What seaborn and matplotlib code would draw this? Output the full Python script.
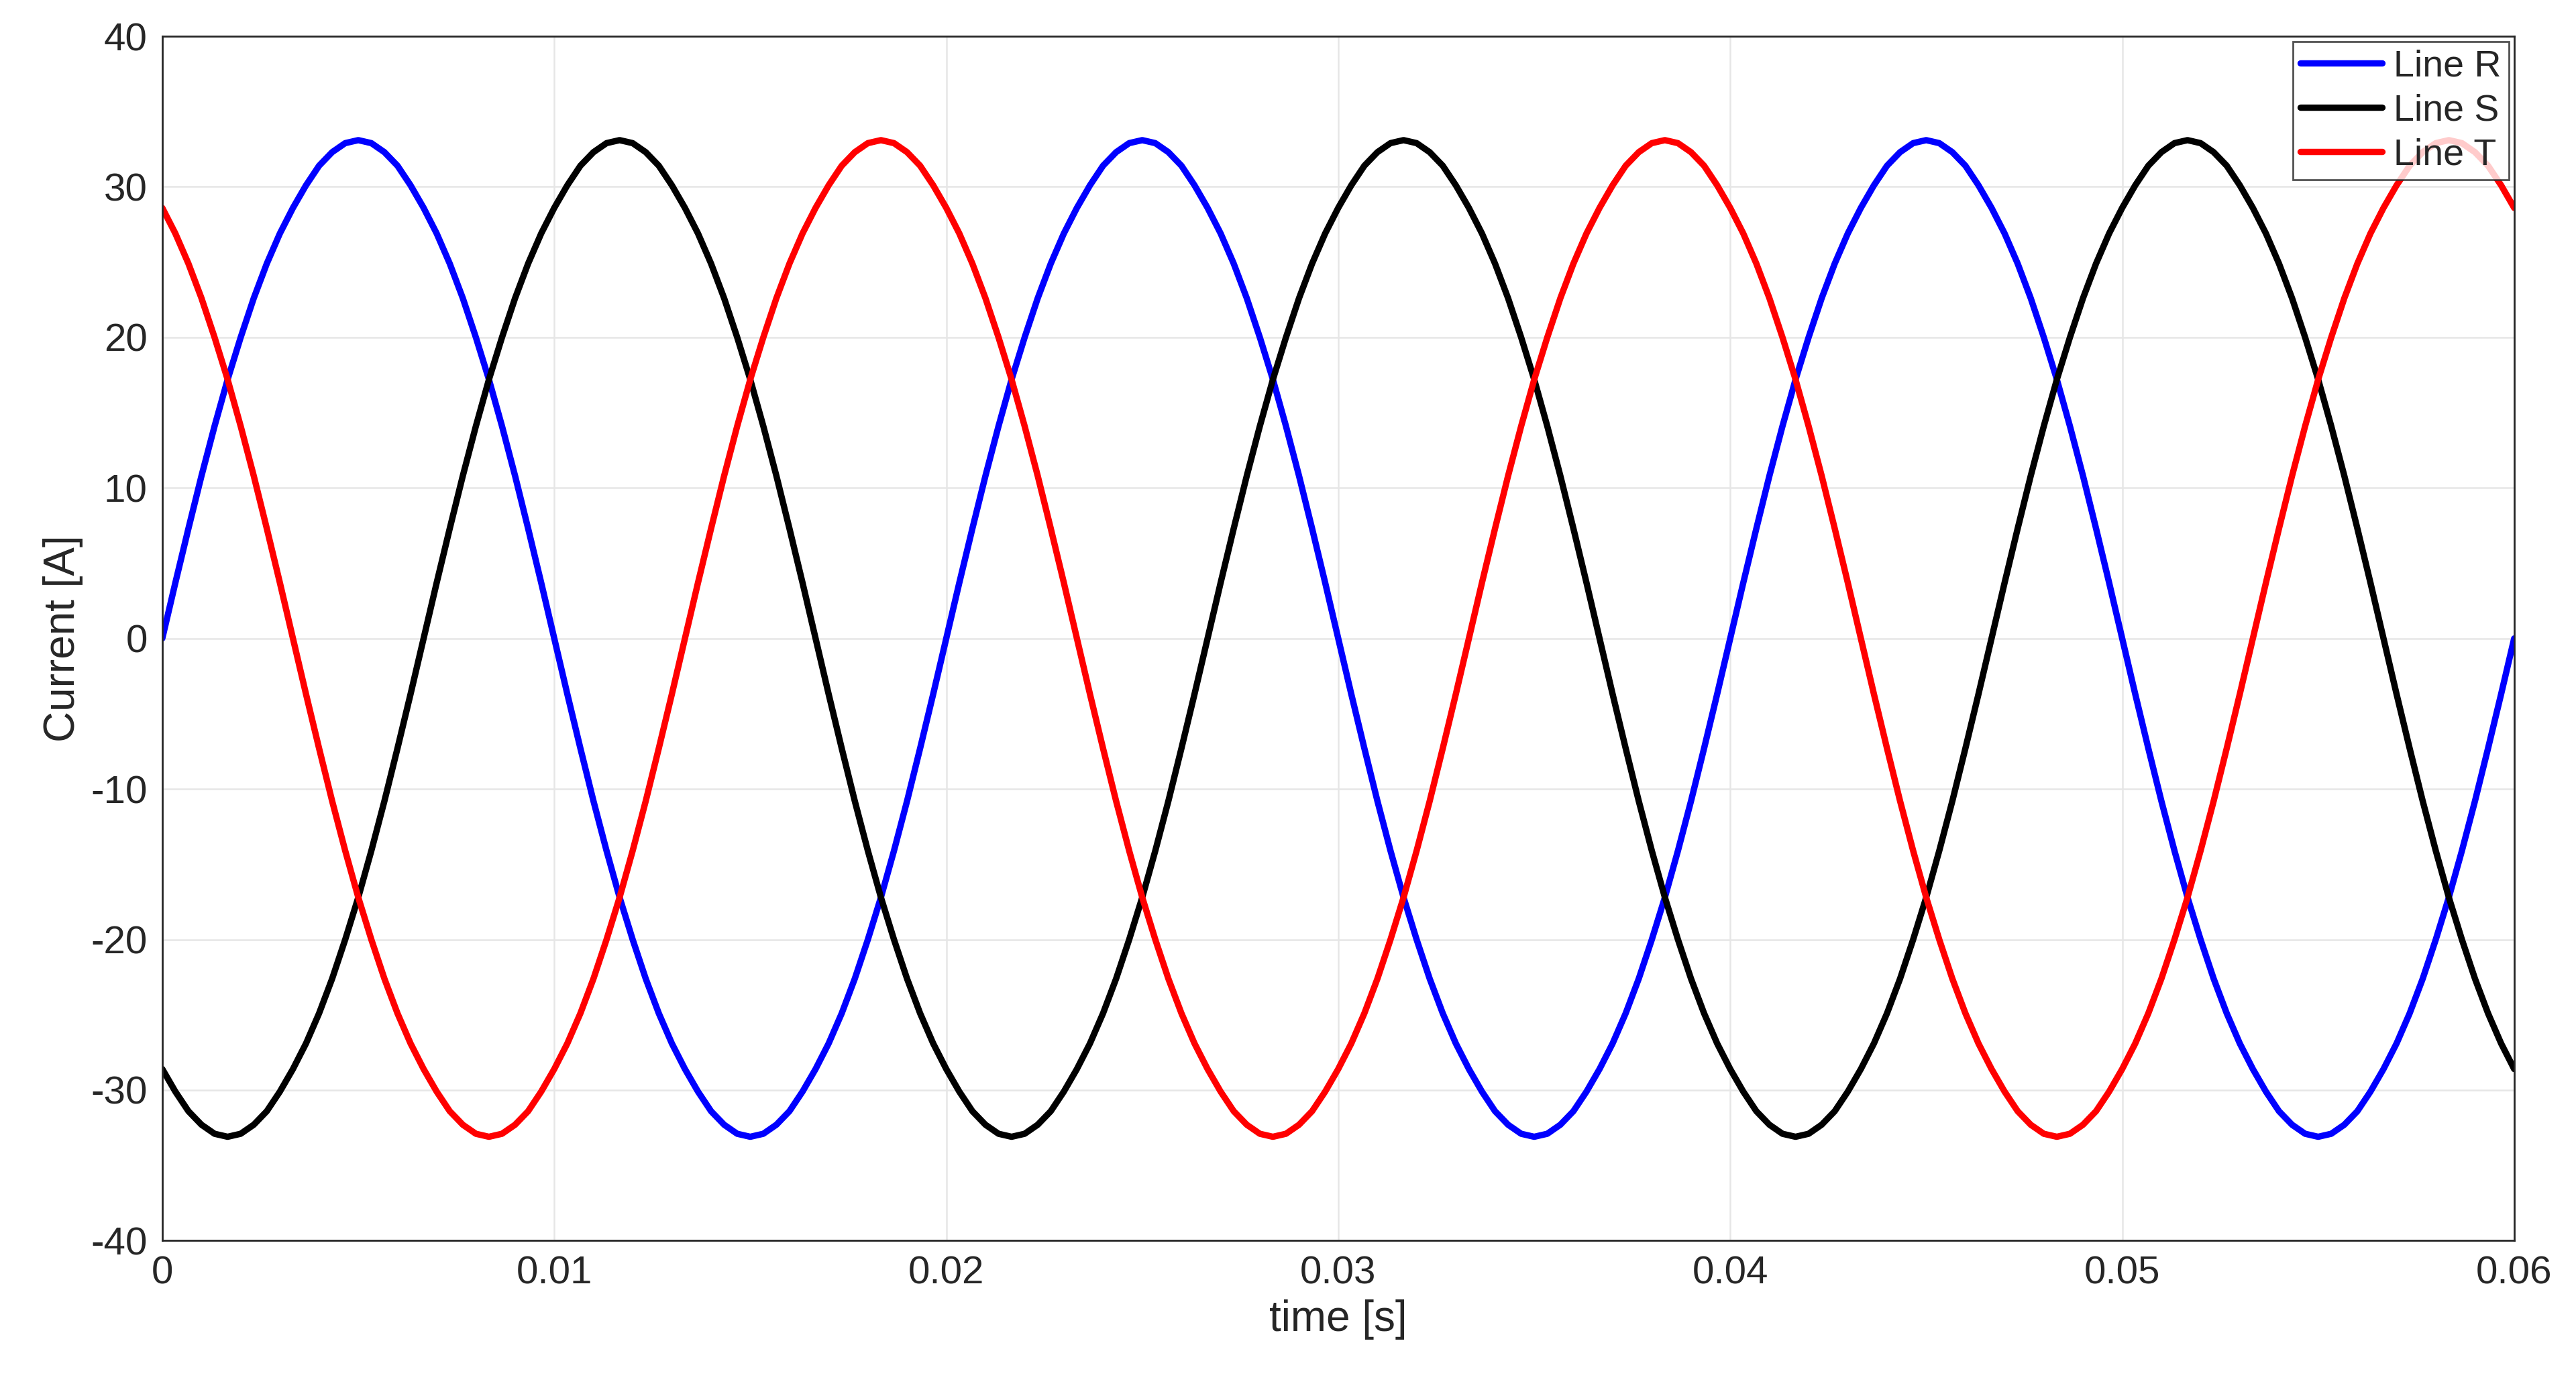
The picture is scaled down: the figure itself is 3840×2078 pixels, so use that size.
import numpy as np
import pandas as pd
import matplotlib
matplotlib.use("Agg")
import matplotlib.pyplot as plt
import seaborn as sns

r_period = [0, 3.7, 7.3, 10.8, 14.1, 17.2, 20.0, 22.6, 24.9, 26.9, 28.6, 30.1, 31.4, 32.3, 32.9,
            33.1, 32.9, 32.3, 31.4, 30.1, 28.6, 26.9, 24.9, 22.6, 20.0, 17.2, 14.1, 10.8, 7.3, 3.7,
            0, -3.7, -7.3, -10.8, -14.1, -17.2, -20.0, -22.6, -24.9, -26.9, -28.6, -30.1, -31.4, -32.3, -32.9,
            -33.1, -32.9, -32.3, -31.4, -30.1, -28.6, -26.9, -24.9, -22.6, -20.0, -17.2, -14.1, -10.8, -7.3, -3.7]
s_period = [-28.6, -30.1, -31.4, -32.3, -32.9, -33.1, -32.9, -32.3, -31.4, -30.1,
            -28.6, -26.9, -24.9, -22.6, -20.0, -17.2, -14.1, -10.8, -7.3, -3.7,
            0, 3.7, 7.3, 10.8, 14.1, 17.2, 20.0, 22.6, 24.9, 26.9, 28.6, 30.1, 31.4, 32.3, 32.9,
            33.1, 32.9, 32.3, 31.4, 30.1, 28.6, 26.9, 24.9, 22.6, 20.0, 17.2, 14.1, 10.8, 7.3, 3.7,
            0, -3.7, -7.3, -10.8, -14.1, -17.2, -20.0, -22.6, -24.9, -26.9]
t_period = [28.6, 26.9, 24.9, 22.6, 20.0, 17.2, 14.1, 10.8, 7.3, 3.7,
            0, -3.7, -7.3, -10.8, -14.1, -17.2, -20.0, -22.6, -24.9, -26.9, -28.6, -30.1, -31.4, -32.3, -32.9,
            -33.1, -32.9, -32.3, -31.4, -30.1, -28.6, -26.9, -24.9, -22.6, -20.0, -17.2, -14.1, -10.8, -7.3, -3.7,
            0, 3.7, 7.3, 10.8, 14.1, 17.2, 20.0, 22.6, 24.9, 26.9, 28.6, 30.1, 31.4, 32.3, 32.9,
            33.1, 32.9, 32.3, 31.4, 30.1]
n_periods = 3
line_names = ["Line R", "Line S", "Line T"]
line_colors = ["#0000ff", "#000000", "#ff0000"]
x_ticks = [0, 0.01, 0.02, 0.03, 0.04, 0.05, 0.06]
y_ticks = [-40, -30, -20, -10, 0, 10, 20, 30, 40]

n = len(r_period)
time = np.arange(n * n_periods + 1) * (0.02 / n)
frames = []
for name, per in zip(line_names, [r_period, s_period, t_period]):
    vals = per * n_periods + [per[0]]
    frames.append(pd.DataFrame({"time": time, "current": vals, "line": name}))
df = pd.concat(frames, ignore_index=True)

sns.set_theme(style="whitegrid")
plt.rcParams['font.family'] = ['Liberation Sans', 'DejaVu Sans']
plt.rcParams['axes.unicode_minus'] = False
fig = plt.figure(figsize=(19.2, 10.39), dpi=200)
ax = fig.add_axes([0.063, 0.11, 0.913, 0.864])
sns.lineplot(data=df, x="time", y="current", hue="line", palette=line_colors,
             linewidth=3.4, ax=ax, sort=False)
ax.set_xlim(0, 0.06)
ax.set_ylim(-40, 40)
ax.set_xticks(x_ticks)
ax.set_xticklabels(["0", "0.01", "0.02", "0.03", "0.04", "0.05", "0.06"])
ax.set_yticks(y_ticks)
ax.tick_params(labelsize=21, colors="#262626", length=0, pad=8)
ax.set_xlabel("time [s]", fontsize=23, color="#262626")
ax.set_ylabel("Current [A]", fontsize=23, color="#262626")
ax.grid(True, color="#e6e6e6", linewidth=0.9)
ax.set_facecolor("white")
for sp in ax.spines.values():
    sp.set_color("#262626")
    sp.set_linewidth(1.0)
leg = ax.legend(loc="upper right", fontsize=20, frameon=True, fancybox=False,
                borderpad=0.2, handlelength=2.2, handletextpad=0.3, labelspacing=0.25,
                borderaxespad=0.15)
leg.get_frame().set_edgecolor("#262626")
leg.get_frame().set_linewidth(1.0)
fig.savefig("out.png", dpi=200, facecolor="white")
